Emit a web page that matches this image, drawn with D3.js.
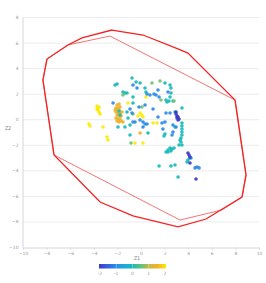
<!DOCTYPE html>
<html><head><meta charset="utf-8">
<script src="https://cdn.jsdelivr.net/npm/d3@7"></script>
<style>html,body{margin:0;padding:0;background:#fff}svg{display:block;font-family:"DejaVu Sans",sans-serif}</style>
</head><body><svg id="c" width="266" height="283"></svg>
<script>
// ---- data ----
const xTicks = [-10,-8,-6,-4,-2,0,2,4,6,8,10];
const yTicks = [-10,-8,-6,-4,-2,0,2,4,6,8];
const colorTicks = [-2,-1,0,1,2];
// scatter: Z1, Z2, colour value
const z1 = [
 -3.73,-3.64,-3.64,-3.56,-3.47,-3.73,-3.56,-4.41,-4.32,-3.22,-2.88,-2.80,-1.10,-0.08,0.08,0.17,0.42,1.02,1.36,-0.25,-0.51,0.17,
 -2.03,-1.86,-2.12,-1.95,-1.78,-2.20,-2.03,-1.86,-2.12,-1.95,-1.78,-1.61,-2.03,-1.86,-1.69,-2.12,-1.95,-1.78,-2.03,-1.86,-1.69,-1.53,-0.08,
 -0.76,-2.20,-2.03,-1.36,-0.68,-0.42,-0.08,0.34,0.42,2.03,2.46,2.54,2.54,2.12,2.37,2.46,2.20,2.71,2.88,3.47,-1.86,-1.78,-1.19,-1.53,-1.19,-0.68,-1.10,-1.95,-1.36,-0.93,-0.93,0.59,2.03,1.95,2.88,3.47,3.47,3.47,3.47,3.47,3.39,3.31,3.39,3.47,3.22,2.29,2.46,2.63,2.80,2.29,2.12,2.54,3.98,4.24,3.90,1.53,2.54,2.88,3.14,
 0.93,1.61,-1.53,2.80,1.69,0.08,-0.68,-0.85,
 -0.68,-0.34,1.10,1.27,1.53,1.44,0.76,2.29,-0.17,0.34,1.02,1.44,-0.68,2.12,2.46,1.78,2.03,1.86,0.17,0.34,0.17,-0.08,0.51,2.97,2.71,2.71,2.63,-2.37,-0.93,-0.76,-0.51,0.51,4.15,4.75,4.92,4.58,
 2.97,2.97,3.05,3.05,3.14,3.14,3.22,3.98,4.07,4.15,4.15,4.66
];
const z2 = [
 1.03,0.88,0.72,0.57,0.41,0.80,0.96,-0.37,-0.53,-0.61,-1.39,-1.63,1.27,0.49,0.33,0.17,1.74,-0.30,-0.30,0.25,-1.86,-1.86,
 1.11,1.19,0.88,0.88,0.96,0.72,0.72,0.72,0.57,0.49,0.49,0.57,0.33,0.25,0.25,0.10,0.02,0.02,-0.14,-0.22,-0.14,-0.22,-1.08,
 3.23,2.68,2.76,2.05,1.74,2.91,2.83,2.44,2.13,2.83,2.68,2.44,2.05,1.50,1.43,1.74,1.35,1.43,0.57,0.88,0.64,0.33,0.57,2.13,2.05,1.27,0.10,-0.61,-0.61,-0.45,-1.23,-1.08,-1.16,-1.31,-0.61,-0.30,-0.53,-0.77,-1.00,-1.23,-1.47,-1.63,-1.78,-2.02,-2.02,-2.41,-2.25,-2.33,-2.25,-2.57,-2.57,-2.49,-3.19,-3.04,-3.35,-3.66,-3.66,-3.58,-4.52,
 2.83,2.99,1.89,1.43,1.50,0.96,0.41,-1.86,
 2.68,2.44,1.97,1.89,1.74,2.29,1.89,2.13,0.96,1.11,0.80,0.17,-0.22,0.49,0.49,-0.30,-0.22,-0.77,-0.22,-0.37,-0.61,-0.06,-0.37,-0.61,-0.45,-1.00,-1.23,1.27,0.80,0.49,-0.22,1.97,-3.04,-3.74,-3.81,-3.81,
 0.57,0.41,0.25,0.10,-0.06,0.17,0.02,-2.64,-2.80,-2.96,-3.43,-4.68
];
const zVal = [
 2,2,2,2,2,2,2,2,2,2,2,2,2,2,2,2,2,2,2,2,2,2,
 1.4,1.4,1.4,1.4,1.4,1.4,1.4,1.4,1.4,1.4,1.4,1.4,1.4,1.4,1.4,1.4,1.4,1.4,1.4,1.4,1.4,1.4,1.4,
 0,0,0,0,0,0,0,0,0,0,0,0,0,0,0,0,0,0,0,0,0,0,0,0,0,0,0,0,0,0,0,0,0,0,0,0,0,0,0,0,0,0,0,0,0,0,0,0,0,0,0,0,0,0,0,0,0,0,0,
 0.6,0.6,0.6,0.6,0.6,0.6,0.6,0.6,
 -1,-1,-1,-1,-1,-1,-1,-1,-1,-1,-1,-1,-1,-1,-1,-1,-1,-1,-1,-1,-1,-1,-1,-1,-1,-1,-1,-1,-1,-1,-1,-1,-1,-1,-1,-1,
 -2,-2,-2,-2,-2,-2,-2,-2,-2,-2,-2,-2
];
// hull outlines (Z1, Z2)
const outerX = [-2.46,0.17,2.97,3.98,7.97,8.90,8.56,5.51,3.14,-0.68,-3.47,-7.37,-8.31,-7.97,-6.19,-5.00];
const outerY = [6.98,6.59,5.57,5.18,1.50,-4.36,-6.09,-7.81,-8.43,-7.57,-6.48,-2.80,3.07,4.71,5.81,6.36];
const innerX = [-7.97,-6.19,-2.63,7.97,8.90,8.56,6.86,3.31,-7.37,-8.31];
const innerY = [4.71,5.81,6.51,1.50,-4.36,-6.09,-7.10,-7.89,-2.80,3.07];
const colorStops = ["#3d38c8","#3562e0","#2c8ae8","#1fa8dc","#19bab8","#5cc47e","#c8b840","#f2b22a","#f9ec0a"];

// ---- drawing ----
const svg = d3.select("#c");
const x = d3.scaleLinear().domain([-10,10]).range([23,259]);
const y = d3.scaleLinear().domain([-10,8]).range([247,17]);
const color = d3.scaleLinear().domain(d3.range(colorStops.length).map(i => -2 + 4*i/(colorStops.length-1))).range(colorStops).clamp(true);

// grid
svg.append("g").selectAll("line").data(yTicks.filter(t => t > -10)).join("line")
  .attr("x1", x(-10)).attr("x2", x(10)).attr("y1", d => y(d)+0.5).attr("y2", d => y(d)+0.5)
  .attr("stroke", "#ececec").attr("stroke-width", 1);

// axes
const xAxis = svg.append("g").attr("transform", `translate(0,${y(-10)+0.5})`)
  .call(d3.axisBottom(x).tickValues(xTicks).tickSize(2).tickPadding(2));
const yAxis = svg.append("g").attr("transform", `translate(${x(-10)-0.5},0)`)
  .call(d3.axisLeft(y).tickValues(yTicks).tickSize(0).tickPadding(4));
[xAxis, yAxis].forEach(a => {
  a.select(".domain").attr("stroke", "#d4d6e4");
  a.selectAll(".tick line").attr("stroke", "#d4d6e4");
  a.selectAll("text").attr("fill", "#9a9a9a").style("font-size", "4.5px").style("font-family", "DejaVu Sans, sans-serif");
});
svg.append("text").attr("x", 137).attr("y", 260).attr("text-anchor", "middle")
  .attr("fill", "#888").style("font-size", "5px").text("Z1");
svg.append("text").attr("x", 8).attr("y", 130).attr("text-anchor", "middle")
  .attr("fill", "#888").style("font-size", "5px").text("Z2");

// hulls
const line = d3.line().x(d => x(d[0])).y(d => y(d[1])).curve(d3.curveLinearClosed);
svg.append("path").datum(innerX.map((v,i) => [v, innerY[i]])).attr("d", line)
  .attr("fill", "none").attr("stroke", "#f03030").attr("stroke-opacity", 0.75).attr("stroke-width", 0.9);
svg.append("path").datum(outerX.map((v,i) => [v, outerY[i]])).attr("d", line)
  .attr("fill", "none").attr("stroke", "#f52222").attr("stroke-width", 1.3);

// points
svg.append("g").selectAll("circle").data(z1.map((v,i) => ({x: v, y: z2[i], c: zVal[i]}))).join("circle")
  .attr("cx", d => x(d.x)).attr("cy", d => y(d.y)).attr("r", 1.8)
  .attr("fill", d => color(d.c)).attr("fill-opacity", 0.92);

// colour bar
const cb = d3.scaleLinear().domain([-2,2]).range([100,165]);
const defs = svg.append("defs");
const grad = defs.append("linearGradient").attr("id", "g");
colorStops.forEach((c,i) => grad.append("stop").attr("offset", (i/(colorStops.length-1)*100)+"%").attr("stop-color", c));
svg.append("rect").attr("x", cb(-2)-1).attr("y", 264).attr("width", cb(2)-cb(-2)+2).attr("height", 4.5).attr("fill", "url(#g)");
svg.append("g").selectAll("line").data(colorTicks.slice(1,-1)).join("line")
  .attr("x1", d => cb(d)).attr("x2", d => cb(d)).attr("y1", 264).attr("y2", 268.5)
  .attr("stroke", "#fff").attr("stroke-opacity", 0.5).attr("stroke-width", 0.6);
svg.append("g").selectAll("text").data(colorTicks).join("text")
  .attr("x", d => cb(d)).attr("y", 275).attr("text-anchor", "middle")
  .attr("fill", "#9a9a9a").style("font-size", "4.5px").text(d => d);
</script></body></html>
